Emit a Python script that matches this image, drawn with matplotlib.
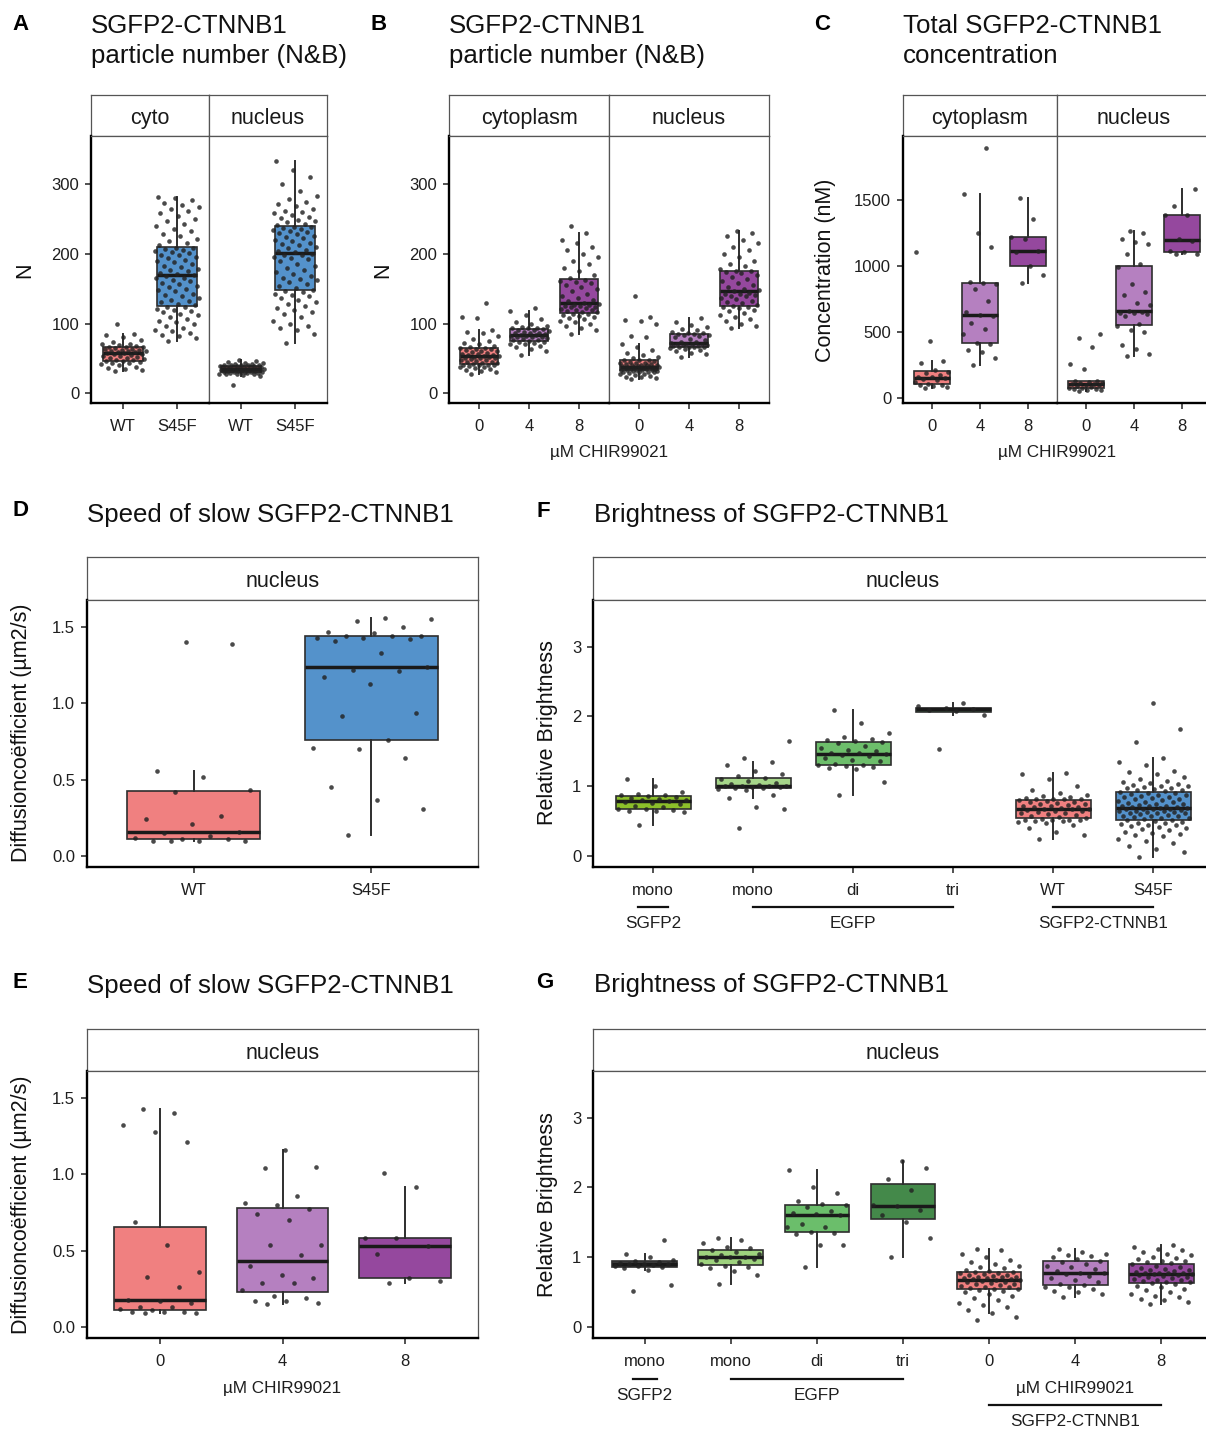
import numpy as np
import matplotlib
matplotlib.use('Agg')
import matplotlib.pyplot as plt
from matplotlib.transforms import blended_transform_factory

W, H = 1206, 1430
plt.rcParams['font.family'] = ['Liberation Sans', 'DejaVu Sans']

red = '#F08080'
blue = '#5492CB'
pur4 = '#B580C0'
pur8 = '#95489E'

# ---- A: particle number, WT vs S45F ----
a_cyto_wt = [32, 33, 35, 36, 38, 40, 42, 43, 44, 45, 46, 46, 47, 48, 49, 50, 51, 52, 53, 54, 55, 56, 57, 58,
             58, 59, 59, 60, 60, 61, 62, 62, 63, 64, 65, 66, 67, 67, 68, 69, 70, 71, 73, 76, 80, 83, 85, 99]
a_cyto_s45f = [75, 79, 82, 84, 86, 89, 91, 94, 97, 99, 102, 104, 107, 110, 112, 113, 116, 118, 119, 121, 123, 124,
               126, 128, 131, 133, 134, 137, 139, 141, 143, 146, 148, 150, 152, 154, 156, 158, 161, 163, 165, 166,
               168, 169, 171, 172, 175, 177, 178, 181, 183, 186, 188, 190, 191, 194, 196, 198, 199, 201, 203, 204,
               206, 207, 208, 209, 212, 216, 219, 221, 226, 229, 233, 236, 240, 243, 247, 250, 254, 258, 262, 264,
               267, 270, 273, 277, 280, 282]
a_nuc_wt = [12, 25, 26, 27, 27, 28, 28, 29, 29, 29, 30, 30, 30, 31, 31, 31, 32, 32, 32, 33, 33, 33, 34, 34, 34, 35,
            35, 35, 35, 36, 36, 36, 37, 37, 37, 38, 38, 38, 39, 39, 39, 40, 40, 40, 41, 41, 42, 42, 43, 44, 45, 46, 48]
a_nuc_s45f = [72, 85, 90, 93, 97, 100, 104, 109, 113, 117, 120, 122, 125, 128, 131, 134, 137, 139, 141, 143, 145, 146,
              148, 151, 154, 157, 160, 162, 164, 166, 168, 171, 174, 177, 180, 183, 186, 189, 192, 194, 196, 198,
              199, 200, 202, 204, 206, 208, 210, 212, 214, 216, 218, 220, 222, 224, 226, 228, 230, 231, 233, 234,
              236, 237, 238, 239, 241, 243, 245, 247, 249, 251, 253, 256, 258, 260, 262, 265, 268, 271, 274, 278,
              283, 290, 300, 310, 320, 333]

# ---- B: particle number, CHIR99021 ----
b_cyto_0 = [28, 30, 32, 33, 35, 36, 37, 38, 39, 40, 40, 41, 41, 42, 43, 44, 45, 45, 46, 47, 48, 49, 50, 50, 51, 52,
            52, 53, 54, 55, 55, 56, 57, 58, 59, 60, 61, 62, 63, 64, 65, 65, 66, 68, 70, 72, 75, 78, 82, 86, 88, 90,
            108, 110, 130]
b_cyto_4 = [55, 60, 63, 66, 68, 70, 71, 72, 73, 74, 75, 76, 77, 78, 79, 80, 80, 81, 82, 82, 83, 84, 85, 86, 86, 87,
            88, 89, 90, 91, 92, 93, 93, 94, 95, 97, 99, 102, 106, 112, 118, 122]
b_cyto_8 = [85, 90, 93, 96, 99, 102, 104, 106, 108, 110, 111, 112, 113, 114, 116, 117, 118, 119, 120, 121, 122, 123,
            124, 125, 125, 126, 127, 128, 130, 132, 134, 137, 140, 143, 146, 149, 152, 155, 158, 160, 161, 163,
            166, 170, 175, 180, 185, 190, 195, 200, 205, 210, 215, 220, 230, 240]
b_nuc_0 = [20, 22, 23, 24, 25, 26, 27, 28, 29, 30, 30, 31, 31, 32, 32, 33, 33, 33, 34, 34, 35, 35, 35, 36, 36, 37,
           37, 37, 38, 38, 38, 39, 39, 40, 40, 41, 41, 42, 42, 43, 44, 44, 45, 46, 47, 48, 48, 50, 52, 55, 58, 62,
           66, 70, 80, 82, 100, 103, 105, 110, 140]
b_nuc_4 = [52, 56, 58, 60, 62, 64, 65, 66, 66, 67, 67, 68, 68, 69, 69, 70, 70, 70, 71, 72, 73, 74, 76, 78, 80, 82,
           83, 84, 85, 85, 86, 87, 88, 90, 92, 95, 98, 102, 108]
b_nuc_8 = [94, 97, 100, 103, 106, 109, 112, 115, 118, 120, 122, 123, 124, 125, 127, 129, 131, 133, 135, 137, 139,
           140, 141, 142, 143, 144, 146, 148, 150, 152, 155, 158, 161, 164, 167, 170, 172, 174, 175, 176, 178,
           182, 186, 190, 195, 200, 205, 210, 215, 220, 225, 230, 233]

# ---- C: concentration (nM) ----
c_cyto_0 = [75, 80, 88, 95, 100, 105, 120, 135, 145, 150, 155, 160, 170, 185, 200, 210, 265, 280, 430, 1100]
c_cyto_4 = [250, 300, 350, 360, 410, 415, 480, 520, 570, 620, 630, 650, 730, 820, 860, 870, 880, 1140, 1250, 1540, 1890]
c_cyto_8 = [870, 930, 1000, 1100, 1110, 1200, 1220, 1350, 1510]
c_nuc_0 = [55, 58, 62, 65, 70, 75, 78, 82, 88, 95, 100, 102, 105, 110, 115, 120, 125, 130, 220, 260, 385, 450, 480]
c_nuc_4 = [320, 330, 370, 400, 500, 510, 545, 560, 620, 635, 640, 645, 650, 660, 700, 720, 780, 800, 860, 990,
           1010, 1090, 1160, 1180, 1200, 1250, 1265]
c_nuc_8 = [1085, 1090, 1100, 1110, 1190, 1200, 1380, 1385, 1450, 1580]

# ---- D / E: diffusion coefficient ----
d_wt = [0.10, 0.10, 0.10, 0.10, 0.11, 0.11, 0.12, 0.13, 0.15, 0.16, 0.21, 0.24, 0.26, 0.42, 0.43, 0.52, 0.56, 1.39, 1.40]
d_s45f = [0.14, 0.31, 0.37, 0.45, 0.64, 0.70, 0.71, 0.76, 0.92, 0.94, 1.13, 1.17, 1.21, 1.22, 1.24, 1.33, 1.41,
          1.42, 1.43, 1.43, 1.44, 1.44, 1.44, 1.46, 1.47, 1.50, 1.54, 1.55, 1.56]
e_0 = [0.09, 0.09, 0.10, 0.10, 0.10, 0.11, 0.12, 0.13, 0.13, 0.16, 0.17, 0.18, 0.26, 0.33, 0.36, 0.54, 0.69,
       1.21, 1.28, 1.32, 1.40, 1.43]
e_4 = [0.15, 0.16, 0.17, 0.17, 0.19, 0.20, 0.24, 0.29, 0.29, 0.32, 0.34, 0.40, 0.47, 0.54, 0.54, 0.70, 0.74,
       0.77, 0.80, 0.81, 0.86, 1.04, 1.05, 1.16]
e_8 = [0.29, 0.30, 0.32, 0.48, 0.53, 0.58, 0.58, 0.92, 1.01]

# ---- F / G: relative brightness ----
f_sgfp2 = [0.44, 0.63, 0.64, 0.65, 0.66, 0.67, 0.68, 0.70, 0.72, 0.74, 0.76, 0.78, 0.79, 0.80, 0.80, 0.81, 0.83,
           0.85, 0.86, 0.87, 0.88, 0.89, 0.92, 1.00, 1.10]
f_mono = [0.40, 0.68, 0.70, 0.83, 0.88, 0.95, 0.96, 0.97, 0.98, 0.99, 0.99, 1.00, 1.00, 1.00, 1.01, 1.02, 1.03,
          1.05, 1.08, 1.10, 1.12, 1.14, 1.18, 1.22, 1.30, 1.35, 1.40, 1.65]
f_di = [0.87, 1.06, 1.24, 1.26, 1.28, 1.29, 1.30, 1.30, 1.32, 1.36, 1.38, 1.40, 1.43, 1.45, 1.46, 1.47, 1.48,
        1.50, 1.52, 1.55, 1.58, 1.62, 1.64, 1.65, 1.66, 1.68, 1.71, 1.77, 1.90, 2.10]
f_tri = [1.54, 2.02, 2.08, 2.10, 2.11, 2.12, 2.15, 2.20]
f_wt = [0.25, 0.30, 0.35, 0.40, 0.45, 0.48, 0.49, 0.50, 0.50, 0.51, 0.51, 0.52, 0.52, 0.53, 0.55, 0.56, 0.58,
        0.59, 0.60, 0.61, 0.62, 0.63, 0.64, 0.65, 0.66, 0.67, 0.68, 0.68, 0.69, 0.70, 0.70, 0.71, 0.72, 0.73,
        0.74, 0.75, 0.76, 0.77, 0.78, 0.79, 0.80, 0.81, 0.81, 0.82, 0.82, 0.83, 0.84, 0.86, 0.88, 0.90, 0.95,
        1.00, 1.10, 1.17, 1.19]
f_s45f = [-0.02, 0.05, 0.10, 0.15, 0.18, 0.22, 0.25, 0.28, 0.30, 0.32, 0.33, 0.35, 0.37, 0.38, 0.40, 0.41, 0.43,
          0.44, 0.45, 0.46, 0.47, 0.48, 0.49, 0.50, 0.51, 0.52, 0.53, 0.54, 0.55, 0.56, 0.57, 0.58, 0.58, 0.59,
          0.60, 0.61, 0.61, 0.62, 0.63, 0.63, 0.64, 0.65, 0.65, 0.66, 0.67, 0.67, 0.68, 0.68, 0.69, 0.69, 0.70,
          0.70, 0.71, 0.72, 0.72, 0.73, 0.74, 0.75, 0.76, 0.77, 0.78, 0.79, 0.80, 0.81, 0.82, 0.83, 0.84, 0.85,
          0.86, 0.87, 0.88, 0.89, 0.90, 0.91, 0.92, 0.93, 0.94, 0.95, 0.96, 0.97, 0.98, 0.99, 1.00, 1.01, 1.02,
          1.03, 1.05, 1.06, 1.08, 1.10, 1.13, 1.17, 1.20, 1.22, 1.30, 1.35, 1.40, 1.63, 1.82, 2.20]
g_sgfp2 = [0.52, 0.60, 0.82, 0.84, 0.86, 0.87, 0.88, 0.89, 0.90, 0.90, 0.91, 0.92, 0.93, 0.95, 0.96, 1.00, 1.05, 1.24]
g_mono = [0.62, 0.75, 0.80, 0.84, 0.86, 0.88, 0.90, 0.93, 0.96, 0.98, 1.00, 1.00, 1.01, 1.03, 1.05, 1.08, 1.11,
          1.13, 1.15, 1.20, 1.25, 1.28]
g_di = [0.86, 1.17, 1.18, 1.33, 1.35, 1.36, 1.43, 1.44, 1.48, 1.60, 1.62, 1.63, 1.66, 1.72, 1.75, 1.77, 1.80,
        1.92, 2.00, 2.25]
g_tri = [1.00, 1.28, 1.50, 1.60, 1.68, 1.74, 1.75, 1.97, 2.12, 2.28, 2.38]
g_0 = [0.10, 0.15, 0.20, 0.25, 0.28, 0.32, 0.35, 0.38, 0.42, 0.45, 0.48, 0.50, 0.52, 0.53, 0.54, 0.55, 0.56, 0.57,
       0.58, 0.59, 0.60, 0.61, 0.62, 0.63, 0.64, 0.65, 0.66, 0.67, 0.68, 0.69, 0.69, 0.70, 0.70, 0.71, 0.72, 0.72,
       0.73, 0.74, 0.75, 0.76, 0.77, 0.78, 0.79, 0.79, 0.80, 0.82, 0.84, 0.86, 0.88, 0.90, 0.93, 0.96, 1.00, 1.05,
       1.10, 1.12]
g_4 = [0.43, 0.47, 0.50, 0.52, 0.55, 0.57, 0.58, 0.60, 0.62, 0.65, 0.68, 0.70, 0.73, 0.76, 0.78, 0.78, 0.80, 0.83,
       0.86, 0.88, 0.90, 0.93, 0.95, 0.97, 1.00, 1.02, 1.03, 1.04, 1.08, 1.12]
g_8 = [0.33, 0.36, 0.38, 0.40, 0.43, 0.45, 0.48, 0.50, 0.53, 0.55, 0.57, 0.59, 0.61, 0.63, 0.64, 0.65, 0.66, 0.67,
       0.68, 0.69, 0.70, 0.71, 0.72, 0.73, 0.74, 0.75, 0.76, 0.76, 0.77, 0.77, 0.78, 0.78, 0.79, 0.80, 0.81, 0.82,
       0.83, 0.84, 0.86, 0.88, 0.90, 0.92, 0.93, 0.94, 0.95, 0.97, 0.99, 1.01, 1.03, 1.05, 1.08, 1.10, 1.12, 1.15,
       1.18]

wt_s45f = ['WT', 'S45F']
chir = ['0', '4', '8']
bright_f = ['mono', 'mono', 'di', 'tri', 'WT', 'S45F']
bright_g = ['mono', 'mono', 'di', 'tri', '0', '4', '8']

fig = plt.figure(figsize=(W / 100, H / 100), dpi=100)


def px_axes(x0, y0, x1, y1):
    return fig.add_axes([x0 / W, 1 - y1 / H, (x1 - x0) / W, (y1 - y0) / H])


def strip(x0, y0, x1, y1, label):
    ax = px_axes(x0, y0, x1, y1)
    ax.set_xticks([])
    ax.set_yticks([])
    for s in ax.spines.values():
        s.set_color('#555555')
        s.set_linewidth(0.9)
    ax.text(0.5, 0.48, label, ha='center', va='center_baseline', fontsize=15.5, color='#1a1a1a',
            transform=ax.transAxes)


def panel(x0, y0, x1, y1, groups, colors, labels, ylim, yticks=None, ytl=None, jit=0.38):
    ax = px_axes(x0, y0, x1, y1)
    n = len(groups)
    pos = np.arange(1, n + 1)
    bp = ax.boxplot(groups, positions=pos, widths=0.75, patch_artist=True, showfliers=False,
                    showcaps=False, whis=1.5,
                    medianprops=dict(color='#1a1a1a', lw=2.5, solid_capstyle='butt'),
                    boxprops=dict(edgecolor='#2e2e2e', lw=1.2),
                    whiskerprops=dict(color='#2e2e2e', lw=1.4))
    for patch, c in zip(bp['boxes'], colors):
        patch.set_facecolor(c)
    for p, vals in zip(pos, groups):
        k = np.arange(len(vals))
        off = ((k * 0.618034 + 0.31) % 1 - 0.5) * 2 * jit
        ax.scatter(p + off, vals, s=11, color='#222222', alpha=0.82, lw=0, zorder=4)
    ax.set_xlim(0.4, n + 0.6)
    ax.set_ylim(ylim)
    ax.set_xticks(pos)
    ax.set_xticklabels(labels, fontsize=12, color='#1e1e1e')
    for s in ax.spines.values():
        s.set_color('#555555')
        s.set_linewidth(0.9)
    ax.spines['bottom'].set_color('black')
    ax.spines['bottom'].set_linewidth(1.7)
    if yticks is not None:
        ax.spines['left'].set_color('black')
        ax.spines['left'].set_linewidth(1.7)
        ax.set_yticks(yticks)
        ax.set_yticklabels(ytl if ytl else [str(t) for t in yticks], fontsize=12, color='#1e1e1e')
    else:
        ax.tick_params(axis='y', left=False, labelleft=False)
    ax.tick_params(axis='both', length=4.5, width=1.2, color='#333333')
    ax.tick_params(axis='x', pad=7)
    ax.tick_params(axis='y', pad=4)
    return ax


def title(x, y, s, size=18.6):
    fig.text(x / W, 1 - y / H, s, fontsize=size, ha='left', va='baseline', color='#111111')


def letter(x, y, s):
    fig.text(x / W, 1 - y / H, s, fontsize=16, fontweight='bold', ha='left', va='baseline')


def ylab(x, y, s):
    fig.text(x / W, 1 - y / H, s, fontsize=15.5, rotation=90, ha='center', va='center', color='#111111')


def xlab(x, y, s, size=12.3):
    fig.text(x / W, 1 - y / H, s, fontsize=size, ha='center', va='center', color='#1e1e1e')


# ---------- A ----------
letter(12, 30, 'A')
title(91, 33, 'SGFP2-CTNNB1')
title(91, 63, 'particle number (N&B)')
ylimA = (-14, 369)
strip(91, 95, 209, 136, 'cyto')
strip(209, 95, 327, 136, 'nucleus')
panel(91, 136, 209, 403, [a_cyto_wt, a_cyto_s45f], [red, blue], wt_s45f, ylimA, [0, 100, 200, 300], jit=0.42)
panel(209, 136, 327, 403, [a_nuc_wt, a_nuc_s45f], [red, blue], wt_s45f, ylimA, jit=0.42)
ylab(25, 270, 'N')

# ---------- B ----------
letter(371, 30, 'B')
title(449, 33, 'SGFP2-CTNNB1')
title(449, 63, 'particle number (N&B)')
strip(449, 95, 609, 136, 'cytoplasm')
strip(609, 95, 769, 136, 'nucleus')
panel(449, 136, 609, 403, [b_cyto_0, b_cyto_4, b_cyto_8], [red, pur4, pur8], chir, ylimA, [0, 100, 200, 300], jit=0.4)
panel(609, 136, 769, 403, [b_nuc_0, b_nuc_4, b_nuc_8], [red, pur4, pur8], chir, ylimA, jit=0.4)
ylab(383, 270, 'N')
xlab(609, 452, 'µM CHIR99021')

# ---------- C ----------
letter(814, 30, 'C')
title(903, 33, 'Total SGFP2-CTNNB1')
title(903, 63, 'concentration')
ylimC = (-38, 1980)
strip(903, 95, 1057, 136, 'cytoplasm')
strip(1057, 95, 1211, 136, 'nucleus')
panel(903, 136, 1057, 403, [c_cyto_0, c_cyto_4, c_cyto_8], [red, pur4, pur8], chir, ylimC,
      [0, 500, 1000, 1500], jit=0.36)
panel(1057, 136, 1211, 403, [c_nuc_0, c_nuc_4, c_nuc_8], [red, pur4, pur8], chir, ylimC, jit=0.36)
ylab(825, 270, 'Concentration (nM)')
xlab(1057, 452, 'µM CHIR99021')

# ---------- D ----------
ylimD = (-0.072, 1.677)
dt = [0.0, 0.5, 1.0, 1.5]
dtl = ['0.0', '0.5', '1.0', '1.5']
letter(12, 516, 'D')
title(87, 522, 'Speed of slow SGFP2-CTNNB1')
strip(87, 557, 478, 600, 'nucleus')
panel(87, 600, 478, 867, [d_wt, d_s45f], [red, blue], wt_s45f, ylimD, dt, dtl, jit=0.34)
ylab(22, 733, 'Diffusioncoëfficient (µm2/s)')

# ---------- E ----------
letter(12, 988, 'E')
title(87, 993, 'Speed of slow SGFP2-CTNNB1')
strip(87, 1029, 478, 1071, 'nucleus')
panel(87, 1071, 478, 1338, [e_0, e_4, e_8], [red, pur4, pur8], chir, ylimD, dt, dtl, jit=0.34)
ylab(22, 1205, 'Diffusioncoëfficient (µm2/s)')
xlab(282, 1388, 'µM CHIR99021')

# ---------- F ----------
ylimF = (-0.158, 3.67)
letter(536, 517, 'F')
title(594, 522, 'Brightness of SGFP2-CTNNB1')
strip(593, 557, 1213, 600, 'nucleus')
axF = panel(593, 600, 1213, 867, [f_sgfp2, f_mono, f_di, f_tri, f_wt, f_s45f],
            ['#8CBF2A', '#A6D68A', '#6DBE6B', '#3F8A4A', red, blue], bright_f, ylimF, [0, 1, 2, 3], jit=0.36)
ylab(547, 733, 'Relative Brightness')

trF = blended_transform_factory(axF.transData, fig.transFigure)
for xa, xb, lab in [(0.85, 1.15, 'SGFP2'), (2, 4, 'EGFP'), (5, 6, 'SGFP2-CTNNB1')]:
    axF.plot([xa, xb], [1 - 907 / H] * 2, color='#111111', lw=1.6, transform=trF, clip_on=False)
    axF.text((xa + xb) / 2, 1 - 924 / H, lab, fontsize=12.3, ha='center', va='center', transform=trF,
             color='#1e1e1e')

# ---------- G ----------
letter(536, 988, 'G')
title(594, 992, 'Brightness of SGFP2-CTNNB1')
strip(593, 1029, 1213, 1071, 'nucleus')
axG = panel(593, 1071, 1213, 1338, [g_sgfp2, g_mono, g_di, g_tri, g_0, g_4, g_8],
            ['#424242', '#9ED27E', '#6BBE6B', '#44894A', red, pur4, pur8], bright_g, ylimF, [0, 1, 2, 3],
            jit=0.36)
ylab(547, 1205, 'Relative Brightness')

trG = blended_transform_factory(axG.transData, fig.transFigure)
for xa, xb, lab in [(0.86, 1.14, 'SGFP2'), (2, 4, 'EGFP')]:
    axG.plot([xa, xb], [1 - 1379 / H] * 2, color='#111111', lw=1.6, transform=trG, clip_on=False)
    axG.text((xa + xb) / 2, 1 - 1395 / H, lab, fontsize=12.3, ha='center', va='center', transform=trG,
             color='#1e1e1e')
axG.text(6, 1 - 1388 / H, 'µM CHIR99021', fontsize=12.3, ha='center', va='center', transform=trG, color='#1e1e1e')
axG.plot([5, 7], [1 - 1405 / H] * 2, color='#111111', lw=1.6, transform=trG, clip_on=False)
axG.text(6, 1 - 1421 / H, 'SGFP2-CTNNB1', fontsize=12.3, ha='center', va='center', transform=trG, color='#1e1e1e')

fig.savefig('out.png', dpi=100, facecolor='white')
